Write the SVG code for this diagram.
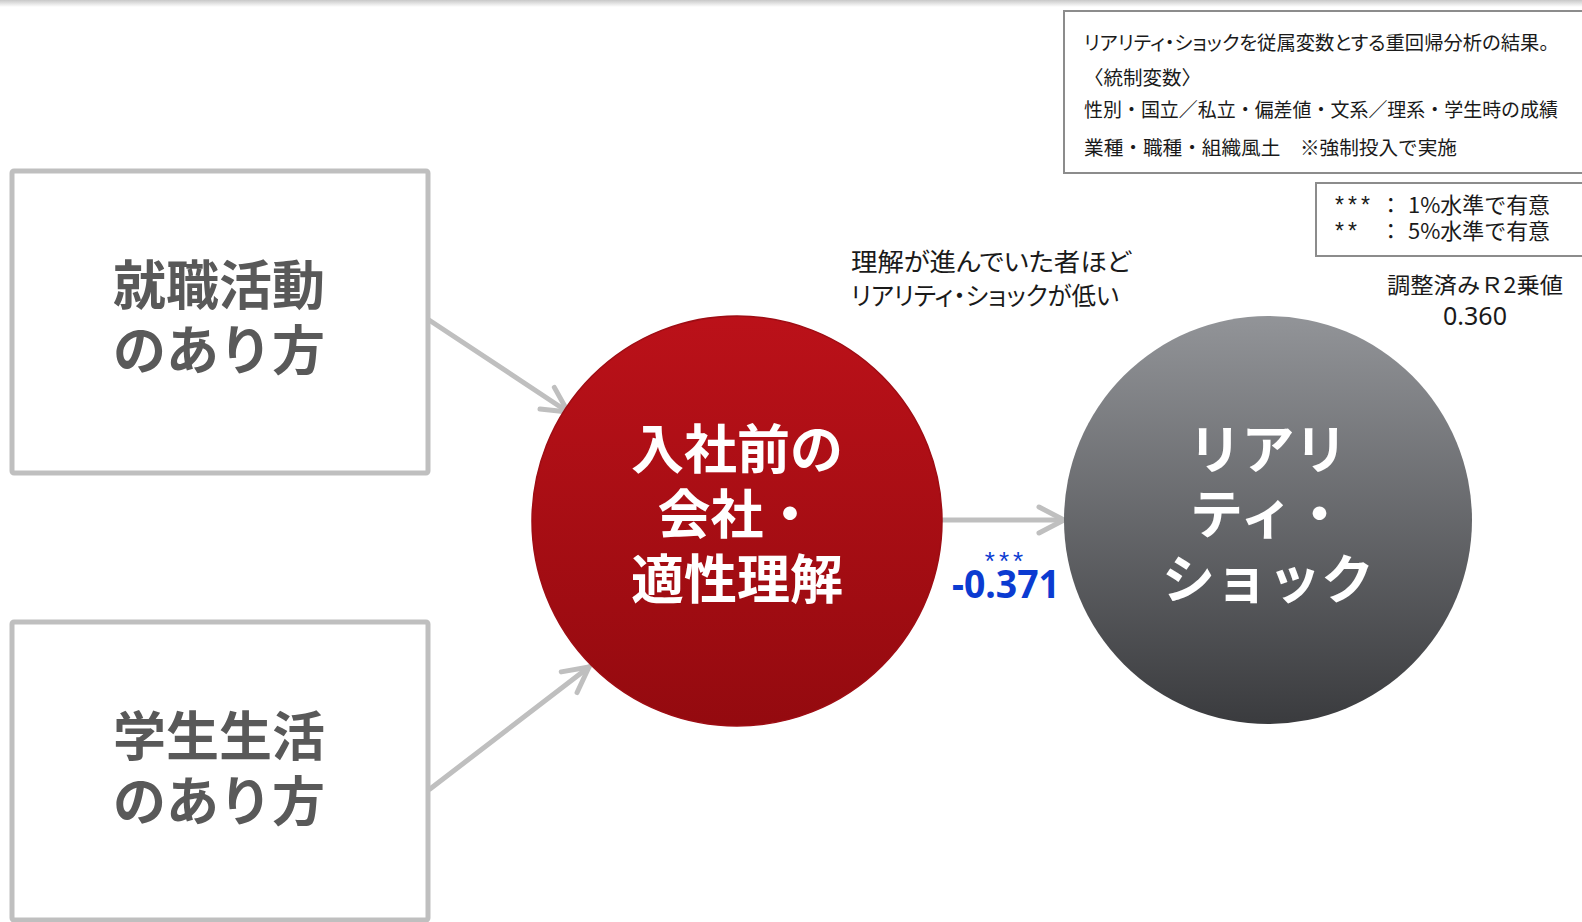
<svg xmlns="http://www.w3.org/2000/svg" width="1582" height="922" viewBox="0 0 1582 922">
<style>
.box{fill:#ffffff;stroke:#bfbfbf;stroke-width:5}
.boxtxt{font-family:"Noto Sans CJK JP","Noto Sans",sans-serif;font-weight:bold;font-size:53px;fill:#595959;text-anchor:middle}
.circtxt{font-family:"Noto Sans CJK JP","Noto Sans",sans-serif;font-weight:bold;font-size:53px;fill:#ffffff;text-anchor:middle}
.conn{fill:none;stroke:#bfbfbf;stroke-width:5;stroke-linecap:round}
.note{font-family:"Noto Sans CJK JP","Noto Sans",sans-serif;fill:#1a1a1a}
.palt{font-feature-settings:"palt"}
.frame{fill:#ffffff;stroke:#8c8c8c;stroke-width:2}
</style>
<defs>
<linearGradient id="topShade" x1="0" y1="0" x2="0" y2="1">
<stop offset="0" stop-color="#c8c8c8"/>
<stop offset="1" stop-color="#ffffff"/>
</linearGradient>
<linearGradient id="redGrad" x1="0" y1="0" x2="0" y2="1">
<stop offset="0" stop-color="#bb1119"/>
<stop offset="1" stop-color="#940a0f"/>
</linearGradient>
<linearGradient id="grayGrad" x1="0" y1="0" x2="0" y2="1">
<stop offset="0" stop-color="#929498"/>
<stop offset="1" stop-color="#3a3b3e"/>
</linearGradient>
<marker id="arrow" markerUnits="userSpaceOnUse" viewBox="-32 -20 40 40" markerWidth="40" markerHeight="40" refX="0" refY="0" orient="auto" overflow="visible">
<path d="M-25,-13 L0,0 L-25,13" fill="none" stroke="#bfbfbf" stroke-width="5" stroke-linecap="round" stroke-linejoin="round"/>
</marker>
</defs>
<rect width="1582" height="922" fill="#ffffff"/>
<rect x="0" y="0" width="1582" height="7" fill="url(#topShade)"/>

<g id="legend-box">
<rect class="frame" x="1064" y="11" width="530" height="162"/>
<text class="note palt" font-size="19.5" x="1084" y="50" textLength="465" lengthAdjust="spacingAndGlyphs">リアリティ・ショックを従属変数とする重回帰分析の結果。</text>
<text class="note" font-size="19.5" x="1084" y="85">〈統制変数〉</text>
<text class="note" font-size="19.5" x="1084" y="117" textLength="474" lengthAdjust="spacingAndGlyphs">性別・国立／私立・偏差値・文系／理系・学生時の成績</text>
<text class="note" font-size="19.5" x="1084" y="155" textLength="373" lengthAdjust="spacingAndGlyphs">業種・職種・組織風土　※強制投入で実施</text>
</g>

<g id="significance-box">
<rect class="frame" x="1316" y="183" width="280" height="73"/>
<text class="note" font-size="21.5" y="213"><tspan x="1335" font-family="Liberation Sans, sans-serif" font-size="23" letter-spacing="4">***</tspan><tspan x="1380">：</tspan><tspan x="1408" textLength="142" lengthAdjust="spacingAndGlyphs">1%水準で有意</tspan></text>
<text class="note" font-size="21.5" y="239"><tspan x="1335" font-family="Liberation Sans, sans-serif" font-size="23" letter-spacing="4">**</tspan><tspan x="1380">：</tspan><tspan x="1408" textLength="142" lengthAdjust="spacingAndGlyphs">5%水準で有意</tspan></text>
</g>

<g id="r2-label">
<text class="note" font-size="22" x="1475" y="293" text-anchor="middle" textLength="176" lengthAdjust="spacingAndGlyphs">調整済みＲ2乗値</text>
<text x="1475" y="325" text-anchor="middle" font-family="Noto Sans, sans-serif" font-size="25" fill="#1a1a1a">0.360</text>
</g>

<g id="annotation">
<text class="note palt" font-size="25" x="851" y="271" textLength="280" lengthAdjust="spacingAndGlyphs">理解が進んでいた者ほど</text>
<text class="note palt" font-size="25" x="851" y="305" textLength="268" lengthAdjust="spacingAndGlyphs">リアリティ・ショックが低い</text>
</g>

<g id="connectors">
<line class="conn" x1="429" y1="320" x2="568" y2="412" marker-end="url(#arrow)"/>
<line class="conn" x1="430" y1="789" x2="589" y2="667" marker-end="url(#arrow)"/>
<line class="conn" x1="942" y1="520" x2="1064" y2="520" marker-end="url(#arrow)"/>
<text x="1006" y="570" text-anchor="middle" font-family="Liberation Sans, sans-serif" font-size="26" letter-spacing="4" fill="#0b3bd1">***</text>
<text x="952" y="598" font-family="Noto Sans, sans-serif" font-weight="bold" font-size="40" fill="#0b3bd1" textLength="108" lengthAdjust="spacingAndGlyphs">-0.371</text>
</g>

<g id="node-job-hunting">
<rect class="box" x="12" y="171" width="416" height="302" rx="2"/>
<text class="boxtxt" x="219" y="305">就職活動</text>
<text class="boxtxt" x="219" y="370">のあり方</text>
</g>

<g id="node-student-life">
<rect class="box" x="12" y="622" width="416" height="298" rx="2"/>
<text class="boxtxt" x="219" y="756">学生生活</text>
<text class="boxtxt" x="219" y="821">のあり方</text>
</g>

<g id="node-understanding">
<circle cx="737" cy="521" r="205" fill="url(#redGrad)" stroke="#9e0d14" stroke-width="1.5"/>
<text class="circtxt" x="737" y="469">入社前の</text>
<text class="circtxt" x="737" y="534">会社・</text>
<text class="circtxt" x="737" y="599">適性理解</text>
</g>

<g id="node-reality-shock">
<circle cx="1268" cy="520" r="204" fill="url(#grayGrad)"/>
<text class="circtxt" x="1268" y="469">リアリ</text>
<text class="circtxt" x="1268" y="534">ティ・</text>
<text class="circtxt" x="1268" y="599">ショック</text>
</g>
</svg>
